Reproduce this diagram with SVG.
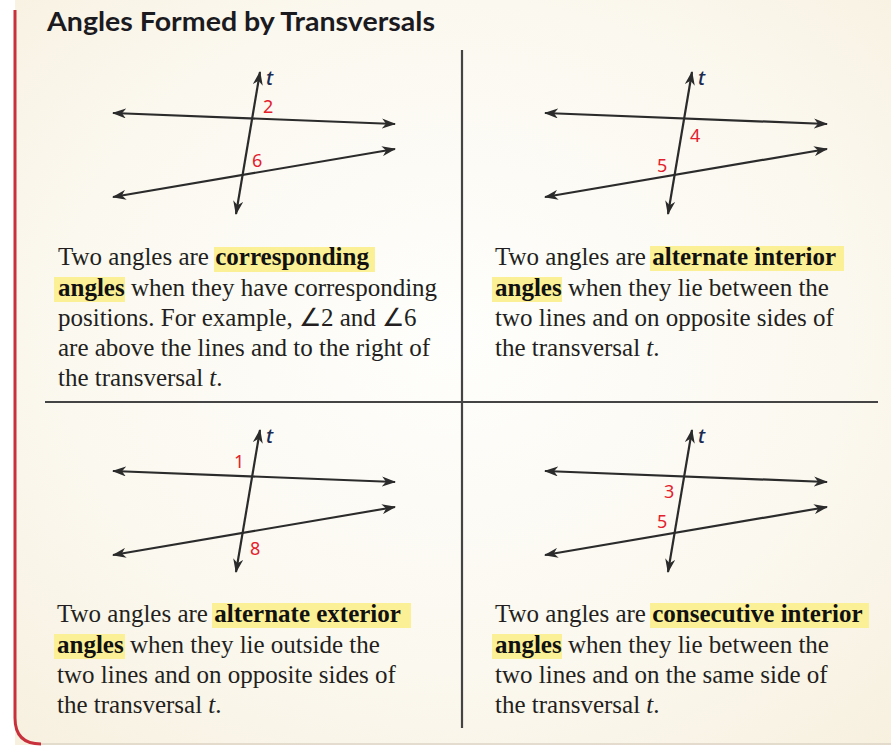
<svg xmlns="http://www.w3.org/2000/svg" width="891" height="748" viewBox="0 0 891 748">
<defs>
<radialGradient id="bg" cx="0.5" cy="0.45" r="0.75">
<stop offset="0" stop-color="#fefefc"/>
<stop offset="0.6" stop-color="#fbf8ef"/>
<stop offset="1" stop-color="#f7f0df"/>
</radialGradient>
<marker id="ah" viewBox="0 0 14 10" markerWidth="14" markerHeight="10" refX="13" refY="5" orient="auto-start-reverse" markerUnits="userSpaceOnUse">
<path d="M0,0 L14,5 L0,10 L4,5 Z" fill="#2b2b2b"/>
</marker>
<g id="fig">
<line x1="113" y1="113" x2="395" y2="124" class="ln"/>
<line x1="113" y1="197" x2="395" y2="149" class="ln"/>
<line x1="260" y1="72" x2="236" y2="214" class="ln"/>
<text x="266" y="85" class="t">t</text>
</g>
</defs>
<style>
.ln{stroke:#2b2b2b;stroke-width:2.2;fill:none;marker-start:url(#ah);marker-end:url(#ah)}
.t{font-family:"Noto Sans","Open Sans","Liberation Sans",sans-serif;font-style:italic;font-weight:500;font-size:20px;fill:#1a2a50}
.n{font-family:"Noto Sans","Open Sans","Liberation Sans",sans-serif;font-size:18px;fill:#e4202c}
.body{font-family:"Liberation Serif","Times New Roman",serif;font-size:25px;fill:#231f20}
.b{font-weight:bold;fill:#111}
.i{font-style:italic}
.hl{fill:#fbf095}
.div{stroke:#444;stroke-width:2.2}
</style>
<rect x="0" y="0" width="891" height="748" fill="#ffffff"/>
<rect x="15" y="0" width="876" height="745" fill="url(#bg)"/>
<line x1="40" y1="744" x2="891" y2="744" stroke="#dcd3c4" stroke-width="1.5"/>
<path d="M15,10 V718 Q15,744 41,744" fill="none" stroke="#c8303c" stroke-width="3"/>
<text x="47" y="31" font-family="Lato,'Open Sans',sans-serif" font-weight="bold" font-size="26" fill="#1b1b1f" textLength="388" lengthAdjust="spacingAndGlyphs">Angles Formed by Transversals</text>
<g id="dividers">
<line x1="462" y1="50" x2="462" y2="728" class="div"/>
<line x1="45" y1="402" x2="878" y2="402" class="div"/>
</g>
<g id="connectors">
<use href="#fig"/>
<use href="#fig" transform="translate(432,0)"/>
<use href="#fig" transform="translate(0,358)"/>
<use href="#fig" transform="translate(432,358)"/>
</g>
<g id="panel-corresponding">
<text x="263" y="113" class="n">2</text>
<text x="252" y="167" class="n">6</text>
<rect x="214" y="247" width="161" height="25" class="hl"/>
<rect x="54" y="277" width="71" height="25" class="hl"/>
<text class="body"><tspan x="58" y="265">Two angles are <tspan class="b">corresponding</tspan></tspan><tspan x="58" y="296"><tspan class="b">angles</tspan> when they have corresponding</tspan><tspan x="58" y="326">positions. For example, ∠2 and ∠6</tspan><tspan x="58" y="356">are above the lines and to the right of</tspan><tspan x="58" y="386">the transversal <tspan class="i">t</tspan>.</tspan></text>
</g>
<g id="panel-alt-interior">
<text x="690" y="142" class="n">4</text>
<text x="657" y="172" class="n">5</text>
<rect x="650" y="246" width="194" height="25" class="hl"/>
<rect x="492" y="277" width="70" height="25" class="hl"/>
<text class="body"><tspan x="495" y="265">Two angles are <tspan class="b">alternate interior</tspan></tspan><tspan x="495" y="296"><tspan class="b">angles</tspan> when they lie between the</tspan><tspan x="495" y="326">two lines and on opposite sides of</tspan><tspan x="495" y="356">the transversal <tspan class="i">t</tspan>.</tspan></text>
</g>
<g id="panel-alt-exterior">
<text x="234" y="468" class="n">1</text>
<text x="250" y="555" class="n">8</text>
<rect x="212" y="603" width="199" height="25" class="hl"/>
<rect x="54" y="634" width="71" height="25" class="hl"/>
<text class="body"><tspan x="57" y="622">Two angles are <tspan class="b">alternate exterior</tspan></tspan><tspan x="57" y="653"><tspan class="b">angles</tspan> when they lie outside the</tspan><tspan x="57" y="683">two lines and on opposite sides of</tspan><tspan x="57" y="713">the transversal <tspan class="i">t</tspan>.</tspan></text>
</g>
<g id="panel-consecutive">
<text x="664" y="498" class="n">3</text>
<text x="657" y="528" class="n">5</text>
<rect x="650" y="603" width="219" height="25" class="hl"/>
<rect x="492" y="634" width="70" height="25" class="hl"/>
<text class="body"><tspan x="495" y="622">Two angles are <tspan class="b">consecutive interior</tspan></tspan><tspan x="495" y="653"><tspan class="b">angles</tspan> when they lie between the</tspan><tspan x="495" y="683">two lines and on the same side of</tspan><tspan x="495" y="713">the transversal <tspan class="i">t</tspan>.</tspan></text>
</g>
</svg>
